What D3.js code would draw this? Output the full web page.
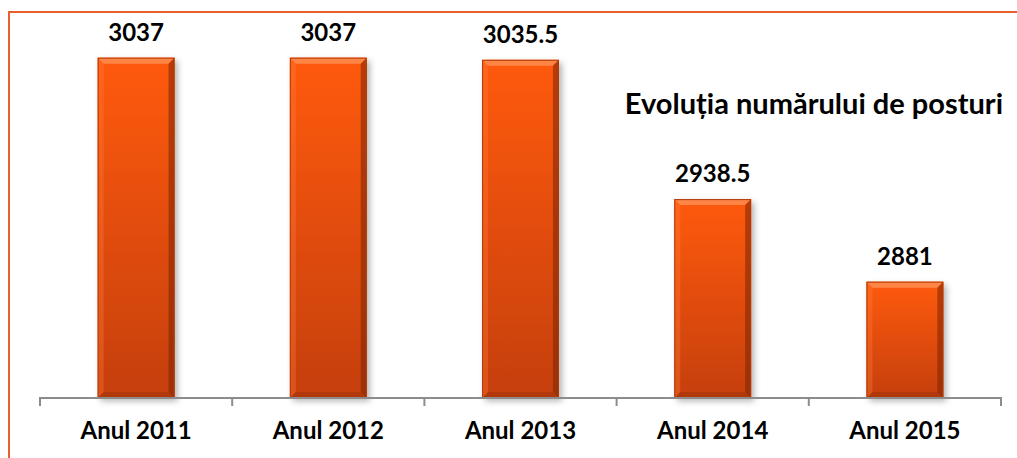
<!DOCTYPE html>
<html>
<head>
<meta charset="utf-8">
<title>Evolutia numarului de posturi</title>
<style>
  body { margin: 0; background: #fff; }
  svg text { font-family: Lato, "Open Sans", sans-serif; font-weight: bold; fill: #000; }
</style>
</head>
<body>
<script src="https://cdn.jsdelivr.net/npm/d3@7/dist/d3.min.js"></script>
<script>
// data
var years = ["Anul 2011", "Anul 2012", "Anul 2013", "Anul 2014", "Anul 2015"];
var posts = [3037, 3037, 3035.5, 2938.5, 2881];
var labels = ["3037", "3037", "3035.5", "2938.5", "2881"];
var chartTitle = "Evoluția numărului de posturi";

var W = 1017, H = 458;
var svg = d3.select("body").append("svg")
    .attr("width", W)
    .attr("height", H);

var defs = svg.append("defs");
var grad = defs.append("linearGradient")
    .attr("id", "barFill").attr("x1", 0).attr("y1", 0).attr("x2", 0).attr("y2", 1);
grad.append("stop").attr("offset", "0%").attr("stop-color", "#ff5a0c");
grad.append("stop").attr("offset", "100%").attr("stop-color", "#c53f0b");

var shadow = defs.append("filter").attr("id", "shadow")
    .attr("x", "-20%").attr("y", "-10%").attr("width", "150%").attr("height", "130%");
shadow.append("feDropShadow")
    .attr("dx", 3).attr("dy", 3).attr("stdDeviation", 3)
    .attr("flood-color", "#000").attr("flood-opacity", 0.3);

// outer border (clipped by the window at right and bottom)
svg.append("rect")
    .attr("x", 9).attr("y", 12)
    .attr("width", 1100).attr("height", 600)
    .attr("fill", "none")
    .attr("stroke", "#e8602c")
    .attr("stroke-width", 2);

// scales
var x = d3.scaleBand().domain(years).range([40, 1001]).paddingInner(0.6).paddingOuter(0.3);
var y = d3.scaleLinear().domain([2800, 3050]).range([398, 39]);

var bevel = 6;
var bars = svg.append("g").selectAll("g.bar")
    .data(posts)
    .enter().append("g").attr("class", "bar");

bars.each(function(d, i) {
  var g = d3.select(this);
  var x0 = x(years[i]), x1 = x0 + x.bandwidth();
  var y0 = y(d), y1 = y(2800);
  g.append("rect")
    .attr("x", x0).attr("y", y0)
    .attr("width", x1 - x0).attr("height", y1 - y0)
    .attr("fill", "url(#barFill)")
    .attr("filter", "url(#shadow)");
  // top bevel
  g.append("polygon")
    .attr("points", [[x0, y0], [x1, y0], [x1 - bevel, y0 + bevel], [x0 + bevel, y0 + bevel]].join(" "))
    .attr("fill", "#ff8d52").attr("opacity", 0.85);
  // left bevel
  g.append("polygon")
    .attr("points", [[x0, y0], [x0 + bevel, y0 + bevel], [x0 + bevel, y1 - bevel], [x0, y1]].join(" "))
    .attr("fill", "#ff7a3a").attr("opacity", 0.35);
  // right bevel
  g.append("polygon")
    .attr("points", [[x1, y0], [x1, y1], [x1 - bevel, y1 - bevel], [x1 - bevel, y0 + bevel]].join(" "))
    .attr("fill", "#7a2404").attr("opacity", 0.55);
  // bottom bevel
  g.append("polygon")
    .attr("points", [[x0, y1], [x1, y1], [x1 - bevel, y1 - bevel], [x0 + bevel, y1 - bevel]].join(" "))
    .attr("fill", "#8a2a06").attr("opacity", 0.35);
  g.append("rect")
    .attr("x", x0 + 0.5).attr("y", y0 + 0.5)
    .attr("width", x1 - x0 - 1).attr("height", y1 - y0 - 1)
    .attr("fill", "none").attr("stroke", "#b33a08").attr("stroke-width", 1);
});

// value labels
svg.append("g").selectAll("text")
    .data(posts)
    .enter().append("text")
    .attr("x", function(d, i) { return x(years[i]) + x.bandwidth() / 2; })
    .attr("y", function(d) { return y(d) - 17; })
    .attr("text-anchor", "middle")
    .style("font-size", "24px")
    .text(function(d, i) { return labels[i]; });

// x axis
var xAxis = d3.axisBottom(x).tickSize(0).tickPadding(24);
var ax = svg.append("g")
    .attr("transform", "translate(0,398)")
    .call(xAxis);
ax.select(".domain").attr("stroke", "#8c8c8c").attr("stroke-width", 2)
    .attr("d", "M40,8V0H1001V8");
ax.selectAll(".tick text")
    .style("font-size", "24px")
    .style("font-family", "Lato, sans-serif")
    .attr("fill", "#000");
// separators between categories
ax.selectAll("line.sep")
    .data(d3.range(1, years.length))
    .enter().append("line")
    .attr("class", "sep")
    .attr("x1", function(k) { return 40 + k * (961 / years.length); })
    .attr("x2", function(k) { return 40 + k * (961 / years.length); })
    .attr("y1", 0).attr("y2", 8)
    .attr("stroke", "#8c8c8c").attr("stroke-width", 2);

// title
svg.append("text")
    .attr("x", 1003).attr("y", 114)
    .attr("text-anchor", "end")
    .style("font-size", "29px")
    .text(chartTitle);
</script>
</body>
</html>
